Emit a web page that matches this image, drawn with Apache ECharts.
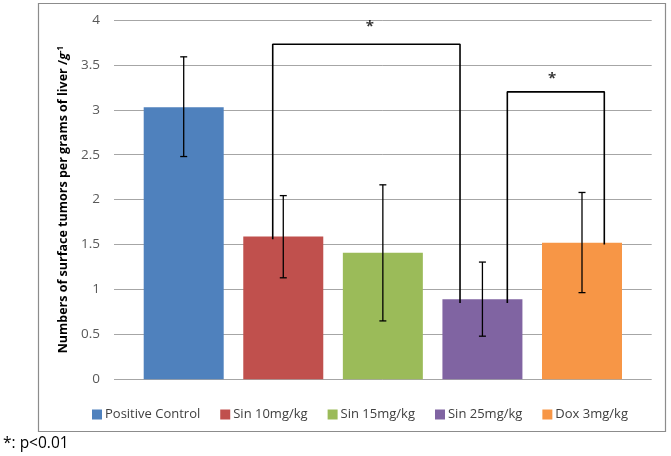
<!DOCTYPE html>
<html>
<head>
<meta charset="utf-8">
<script src="https://cdn.jsdelivr.net/npm/echarts@6/dist/echarts.min.js"></script>
<style>html,body{margin:0;padding:0;background:#fff}#c{width:671px;height:456px}</style>
</head>
<body>
<div id="c"></div>
<script>
// ---- data ----
const groups = ['Positive Control', 'Sin 10mg/kg', 'Sin 15mg/kg', 'Sin 25mg/kg', 'Dox 3mg/kg'];
const means = [3.03, 1.59, 1.41, 0.89, 1.52];
const errLow = [2.48, 1.13, 0.65, 0.48, 0.965];
const errHigh = [3.59, 2.045, 2.165, 1.305, 2.08];
const yTicks = [0, 0.5, 1, 1.5, 2, 2.5, 3, 3.5, 4];
// significance brackets: [x, y] points (x in group-index units)
const bracket1 = [[0.894, 1.56], [0.894, 3.73], [2.775, 3.73], [2.775, 0.85]];
const bracket2 = [[3.25, 0.85], [3.25, 3.2], [4.224, 3.2], [4.224, 1.50]];
const stars = [[1.87, 3.93], [3.70, 3.35]];
const colors = ['#4F81BD', '#C0504D', '#9BBB59', '#8064A2', '#F79646'];

const chart = echarts.init(document.getElementById('c'));
const font = "'Open Sans', 'Liberation Sans', sans-serif";

const barSeries = groups.map((g, i) => ({
  name: g,
  type: 'bar',
  data: [[i, means[i]]],
  barWidth: 80,
  barGap: '-100%',
  itemStyle: { color: colors[i] },
  z: 2
}));

const errSeries = {
  type: 'custom',
  silent: true,
  z: 5,
  data: groups.map((g, i) => [i, errLow[i], errHigh[i]]),
  renderItem: function (params, api) {
    const x = api.value(0);
    const lo = api.coord([x, api.value(1)]);
    const hi = api.coord([x, api.value(2)]);
    const w = 3.5;
    const st = { stroke: '#000', lineWidth: 1.3 };
    return {
      type: 'group',
      children: [
        { type: 'line', shape: { x1: lo[0], y1: lo[1], x2: hi[0], y2: hi[1] }, style: st },
        { type: 'line', shape: { x1: lo[0] - w, y1: lo[1], x2: lo[0] + w, y2: lo[1] }, style: st },
        { type: 'line', shape: { x1: hi[0] - w, y1: hi[1], x2: hi[0] + w, y2: hi[1] }, style: st }
      ]
    };
  }
};

const bracketSeries = [bracket1, bracket2].map(b => ({
  type: 'line',
  data: b,
  symbol: 'none',
  silent: true,
  z: 4,
  lineStyle: { color: '#000', width: 1.6 }
}));

const starSeries = {
  type: 'scatter',
  data: stars,
  symbolSize: 0,
  silent: true,
  label: { show: true, formatter: '*', position: 'inside', fontSize: 15, fontWeight: 'bold', color: '#000', fontFamily: font }
};

chart.setOption({
  animation: false,
  backgroundColor: '#fff',
  graphic: [
    { type: 'rect', shape: { x: 38.5, y: 3.5, width: 627, height: 428 }, style: { fill: 'none', stroke: '#8c8c8c', lineWidth: 1.2 }, z: -1 },
    { type: 'text', left: 3, top: 436, style: { text: '*: p<0.01', font: '15.5px ' + font, fill: '#000' } }
  ],
  legend: {
    data: groups,
    top: 403,
    left: 87,
    itemWidth: 10,
    itemHeight: 10,
    itemGap: 20,
    icon: 'rect',
    textStyle: { fontSize: 13, color: '#404040', fontFamily: font, padding: [0, 0, 0, -2] }
  },
  grid: { left: 114, right: 19.3, top: 20, bottom: 456 - 379.3, containLabel: false },
  xAxis: {
    type: 'value',
    min: -0.7,
    max: 4.7,
    show: false
  },
  yAxis: {
    type: 'value',
    min: yTicks[0],
    max: yTicks[yTicks.length - 1],
    interval: 0.5,
    axisLine: { show: false },
    axisTick: { show: false },
    axisLabel: { color: '#595959', fontSize: 13.5, margin: 14, fontFamily: font },
    splitLine: { lineStyle: { color: '#a6a6a6', width: 1 } },
    name: '{a|Numbers of surface tumors per grams of liver /}{i|g}{s|-1}',
    nameLocation: 'middle',
    nameGap: 39,
    nameRotate: 90,
    nameTextStyle: {
      rich: {
        a: { fontSize: 12.5, fontWeight: 'bold', color: '#000', fontFamily: font },
        i: { fontSize: 12.5, fontWeight: 'bold', fontStyle: 'italic', color: '#000', fontFamily: font },
        s: { fontSize: 8, fontWeight: 'bold', color: '#000', fontFamily: font, verticalAlign: 'top', padding: [0, 0, 6, 0] }
      }
    }
  },
  series: [...barSeries, errSeries, ...bracketSeries, starSeries]
});
</script>
</body>
</html>
